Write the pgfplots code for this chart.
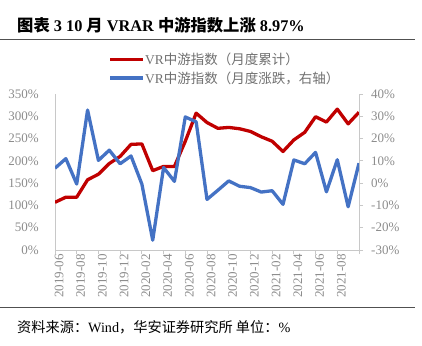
\documentclass[border=0pt]{standalone}
\usepackage{pgfplots}
\pgfplotsset{compat=1.18}
\usepackage{pgfplotstable}
\usepackage{fontspec}
\setmainfont{Liberation Serif}
\newfontfamily\cjk{Noto Sans CJK SC}
\definecolor{cred}{HTML}{C00000}
\definecolor{cblue}{HTML}{4472C4}
\definecolor{tickgray}{HTML}{8C8C8C}
\definecolor{axgray}{HTML}{C8C8C8}
\definecolor{leggray}{HTML}{707070}
\definecolor{rulegray}{HTML}{505050}

\pgfplotstableread{
x red blue
0 107 6.7
1 118.5 11.0
2 118.5 -0.4
3 157.5 32.8
4 170 10.2
5 194 14.8
6 210 8.7
7 237 12.2
8 238 -0.4
9 178 -25.6
10 187.5 7.0
11 187.5 0.8
12 244 29.7
13 307 27.5
14 286 -7.3
15 273 -3.2
16 275 1.0
17 272 -1.4
18 266 -2.0
19 254 -4.0
20 244 -3.4
21 221 -9.5
22 247 10.4
23 264 8.7
24 299 13.8
25 287 -3.9
26 316 10.5
27 283 -10.6
28 309 8.97
}\datatable

\begin{document}
\begin{tikzpicture}[x=1pt,y=1pt]
\useasboundingbox (0,0) rectangle (422,345);
% title
\node[anchor=base west, inner sep=0pt] at (17,313)
  {\fontsize{16.3}{17}\selectfont\bfseries {\cjk 图表} 3 10 {\cjk 月} VRAR {\cjk 中游指数上涨} 8.97\%};
\draw[rulegray, line width=0.8pt] (0,305.5) -- (415,305.5);
\draw[rulegray, line width=0.8pt] (0,38) -- (415,38);
% legend
\draw[cred, line width=3.5pt] (110,285.5) -- (143,285.5);
\node[anchor=west, inner sep=0pt, text=leggray] at (145,285.5)
  {\fontsize{13.5}{14}\selectfont VR{\cjk 中游指数（月度累计）}};
\draw[cblue, line width=3.5pt] (110,267) -- (143,267);
\node[anchor=west, inner sep=0pt, text=leggray] at (145,267)
  {\fontsize{13.5}{14}\selectfont VR{\cjk 中游指数（月度涨跌，右轴）}};
% source
\node[anchor=base west, inner sep=0pt] at (17,13)
  {\fontsize{14.2}{15}\selectfont {\cjk 资料来源：}Wind{\cjk ，华安证券研究所 单位：}\%};

\pgfplotsset{
  every axis/.append style={
    scale only axis, width=304pt, height=156pt,
    at={(55pt,95pt)}, anchor=south west,
    xmin=0, xmax=28,
    /pgf/number format/assume math mode=true,
    tick label style={font=\fontsize{13}{13}\selectfont, text=tickgray},
  }
}
\begin{axis}[
  ymin=0, ymax=350,
  axis x line*=bottom, axis y line*=left,
  axis line style={axgray, line width=0.8pt},
  xtick={0,2,...,28},
  xticklabels={2019-06,2019-08,2019-10,2019-12,2020-02,2020-04,2020-06,2020-08,2020-10,2020-12,2021-02,2021-04,2021-06,2021-08,{}},
  xtick style={axgray, line width=0.8pt},
  tick align=outside,
  major tick length=4pt,
  xticklabel style={rotate=90, anchor=east, inner sep=0pt, yshift=-4pt},
  ytick={0,50,...,350},
  ytick style={draw=none},
  yticklabel={\pgfmathprintnumber{\tick}\%},
  yticklabel style={anchor=east, inner sep=0pt, xshift=-12pt},
]
\addplot[cred, line width=3.3pt, line join=round] table[x=x, y=red] {\datatable};
\end{axis}
\begin{axis}[
  ymin=-30, ymax=40,
  axis x line=none, axis y line*=right,
  axis line style={axgray, line width=0.8pt},
  ytick={-30,-20,...,40},
  ytick style={axgray, line width=0.8pt},
  tick align=outside,
  major tick length=4pt,
  yticklabel={\pgfmathprintnumber{\tick}\%},
  yticklabel style={anchor=west, inner sep=0pt, xshift=8pt},
]
\addplot[cblue, line width=3.3pt, line join=round] table[x=x, y=blue] {\datatable};
\end{axis}
\end{tikzpicture}
\end{document}
